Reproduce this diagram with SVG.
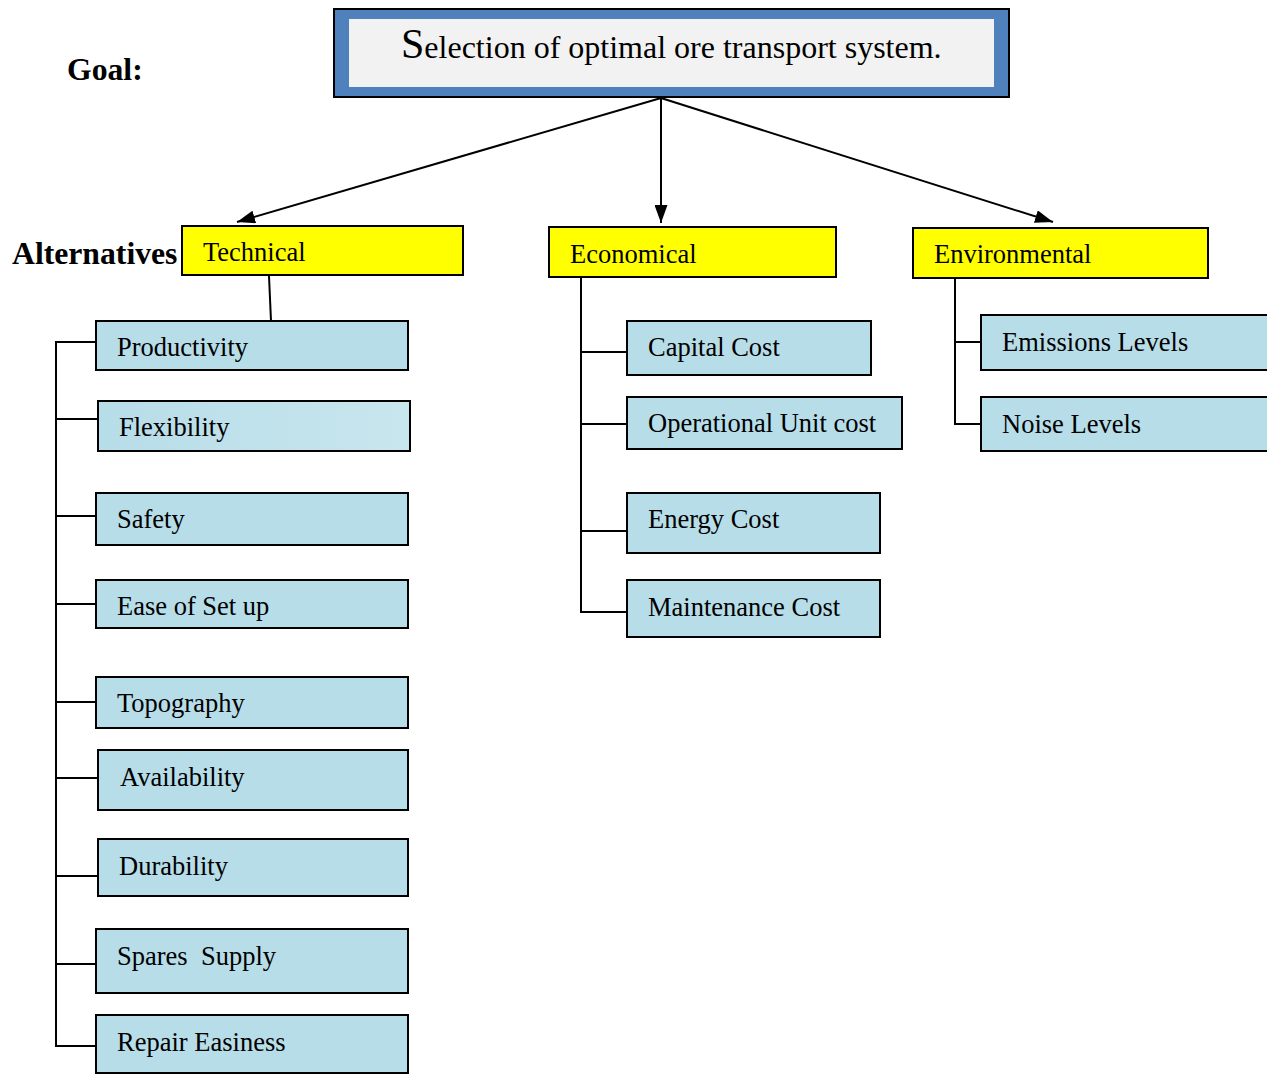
<svg xmlns="http://www.w3.org/2000/svg" width="1267" height="1074" viewBox="0 0 1267 1074">
<style>
text{font-family:"Liberation Serif","Times New Roman",serif;fill:#000}
.lbl{font-size:26.5px}
.hdr{font-size:31.7px;font-weight:bold}
.cat{fill:#FFFF00;stroke:#000;stroke-width:2}
.sub{fill:#B7DDE8;stroke:#000;stroke-width:2}
.ln{fill:none;stroke:#000;stroke-width:2}
</style>
<defs>
<marker id="ah" viewBox="0 0 18 13" refX="18" refY="6.5" markerWidth="18" markerHeight="13" markerUnits="userSpaceOnUse" orient="auto">
<path d="M0,0 L18,6.5 L0,13 Z" fill="#000"/>
</marker>
<linearGradient id="flex" x1="0" y1="0" x2="1" y2="0">
<stop offset="0" stop-color="#B7DDE8"/>
<stop offset="1" stop-color="#C8E6EE"/>
</linearGradient>
</defs>
<rect width="1267" height="1074" fill="#fff"/>

<text class="hdr" x="67" y="80">Goal:</text>
<text class="hdr" x="12" y="264">Alternatives</text>

<g id="goal">
<rect x="334" y="9" width="675" height="88" fill="#4F81BD" stroke="#000" stroke-width="2"/>
<rect x="349" y="19" width="645" height="68" fill="#F2F2F2"/>
<text x="401" y="58" font-size="32"><tspan font-size="42">S</tspan>election of optimal ore transport system.</text>
</g>

<g id="connectors">
<line class="ln" x1="661" y1="98" x2="237" y2="222" marker-end="url(#ah)"/>
<line class="ln" x1="661" y1="98" x2="661" y2="223" marker-end="url(#ah)"/>
<line class="ln" x1="661" y1="98" x2="1053" y2="222" marker-end="url(#ah)"/>
<line class="ln" x1="269" y1="276" x2="271" y2="321"/>
<path class="ln" d="M96,342 H56 V1046 H96 M56,419 H98 M56,516 H96 M56,604 H96 M56,702 H96 M56,778 H98 M56,876 H98 M56,964 H96"/>
<path class="ln" d="M581,277 V612 H627 M581,352 H627 M581,424 H627 M581,531 H627"/>
<path class="ln" d="M955,278 V424 H981 M955,342 H981"/>
</g>

<g id="technical"><rect class="cat" x="182" y="226" width="281" height="49"/><text class="lbl" x="203" y="261">Technical</text></g>
<g id="economical"><rect class="cat" x="549" y="227" width="287" height="50"/><text class="lbl" x="570" y="263">Economical</text></g>
<g id="environmental"><rect class="cat" x="913" y="228" width="295" height="50"/><text class="lbl" x="934" y="263">Environmental</text></g>

<g id="productivity"><rect class="sub" x="96" y="321" width="312" height="49"/><text class="lbl" x="117" y="356">Productivity</text></g>
<g id="flexibility"><rect x="98" y="401" width="312" height="50" fill="url(#flex)" stroke="#000" stroke-width="2"/><text class="lbl" x="119" y="436">Flexibility</text></g>
<g id="safety"><rect class="sub" x="96" y="493" width="312" height="52"/><text class="lbl" x="117" y="528">Safety</text></g>
<g id="ease"><rect class="sub" x="96" y="580" width="312" height="48"/><text class="lbl" x="117" y="615">Ease of Set up</text></g>
<g id="topography"><rect class="sub" x="96" y="677" width="312" height="51"/><text class="lbl" x="117" y="712">Topography</text></g>
<g id="availability"><rect class="sub" x="98" y="750" width="310" height="60"/><text class="lbl" x="120" y="786">Availability</text></g>
<g id="durability"><rect class="sub" x="98" y="839" width="310" height="57"/><text class="lbl" x="119" y="875">Durability</text></g>
<g id="spares"><rect class="sub" x="96" y="929" width="312" height="64"/><text class="lbl" x="117" y="965" xml:space="preserve">Spares  Supply</text></g>
<g id="repair"><rect class="sub" x="96" y="1015" width="312" height="58"/><text class="lbl" x="117" y="1051">Repair Easiness</text></g>

<g id="capital"><rect class="sub" x="627" y="321" width="244" height="54"/><text class="lbl" x="648" y="356">Capital Cost</text></g>
<g id="operational"><rect class="sub" x="627" y="397" width="275" height="52"/><text class="lbl" x="648" y="432">Operational Unit cost</text></g>
<g id="energy"><rect class="sub" x="627" y="493" width="253" height="60"/><text class="lbl" x="648" y="528">Energy Cost</text></g>
<g id="maintenance"><rect class="sub" x="627" y="580" width="253" height="57"/><text class="lbl" x="648" y="616">Maintenance Cost</text></g>

<g id="emissions"><rect class="sub" x="981" y="315" width="290" height="55"/><text class="lbl" x="1002" y="351">Emissions Levels</text></g>
<g id="noise"><rect class="sub" x="981" y="397" width="290" height="54"/><text class="lbl" x="1002" y="433">Noise Levels</text></g>
</svg>
